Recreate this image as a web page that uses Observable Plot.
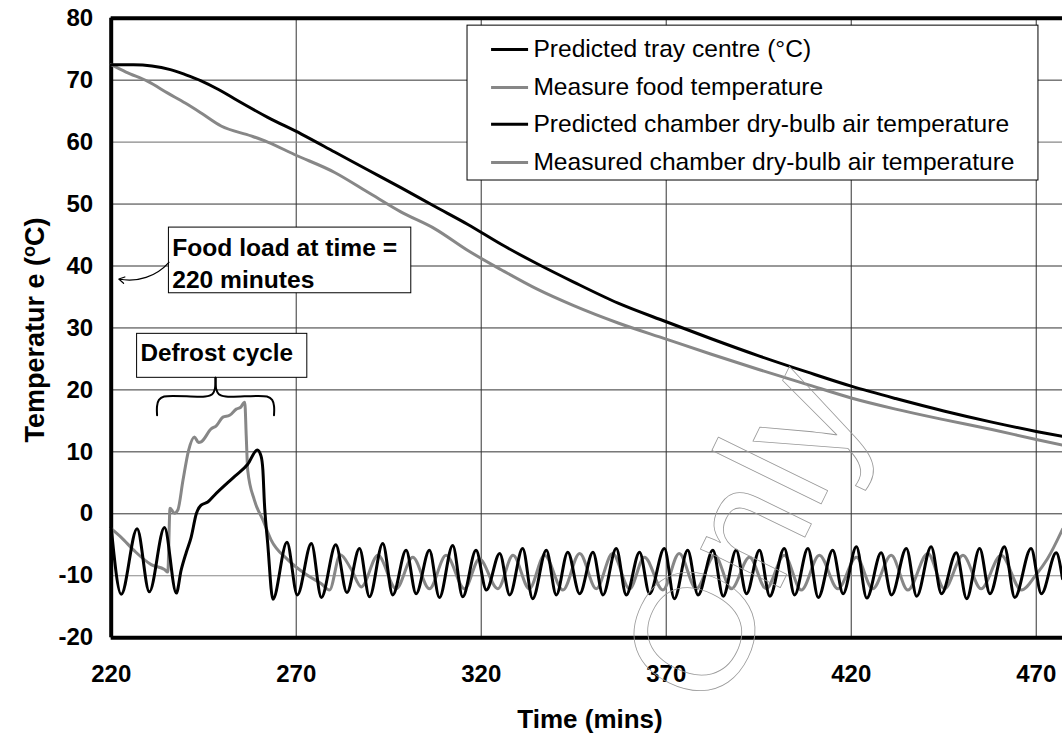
<!DOCTYPE html>
<html><head><meta charset="utf-8">
<script src="https://cdn.jsdelivr.net/npm/d3@7"></script>
<script src="https://cdn.jsdelivr.net/npm/@observablehq/plot@0.6"></script>
<style>
body{margin:0;background:#fff;}
svg{display:block;}
</style>
</head><body><div id="chart"></div>
<script>
// ---------- DATA ----------
const xTicks = [220, 270, 320, 370, 420, 470];
const yTicks = [-20, -10, 0, 10, 20, 30, 40, 50, 60, 70, 80];
const seriesNames = [
  "Predicted tray centre (°C)",
  "Measure food temperature",
  "Predicted chamber dry-bulb air temperature",
  "Measured chamber dry-bulb air temperature"
];
// [time (mins), temperature (°C)]
const predictedTray = [[220,72.5],[226,72.5],[231,72.3],[236,71.7],[240,70.9],[244.3,69.9],[249,68.5],[253.3,67.0],[262.3,64.0],[271.4,61.3],[280.4,58.4],[289.4,55.5],[298.4,52.6],[307.5,49.6],[316.4,46.7],[325.4,43.5],[335,40.4],[345,37.4],[357,34.0],[370,31.0],[382,28.3],[395,25.5],[408,22.9],[420,20.6],[432,18.6],[445,16.6],[458,14.8],[470,13.3],[477.1,12.5]];
const measuredFood = [[220,72.5],[224,71.3],[229.9,69.8],[235.3,67.9],[240,66.3],[244.3,64.7],[249.7,62.6],[257.8,61.0],[262.3,60.0],[269.5,58.0],[280.4,55.1],[289.4,51.9],[298.4,48.7],[307.5,46.0],[316.4,42.5],[325.4,39.4],[335,36.3],[345,33.6],[357,30.8],[370,28.2],[382,25.8],[395,23.3],[408,20.9],[420,18.7],[432,16.9],[445,15.2],[458,13.6],[470,12.0],[477.1,11.1]];
const predictedAir = [[220,-2.2],[222.7,-13.0],[227,-2.4],[230.3,-12.6],[234.4,-2.2],[237.6,-12.8],[238.9,-9.1],[240.3,-6.2],[241.6,-3.8],[243,0.0],[244.3,1.4],[246.1,1.9],[247.9,3.0],[253.3,6.0],[256.9,8.0],[259.5,10.3],[260.5,9.3],[261,7.0],[261.4,1.8],[262.3,-4.8],[263.7,-13.8],[267.5,-4.6],[270.3,-13.1],[274.1,-4.8],[276.8,-13.5],[280.7,-5.0],[283.7,-12.7],[287.1,-5.6],[289.8,-13.4],[293.4,-4.8],[296.1,-13.1],[299.7,-5.9],[302.4,-12.9],[306.0,-5.9],[308.7,-13.5],[312.3,-5.1],[315.0,-13.4],[318.6,-5.9],[321.4,-12.3],[325.0,-6.4],[327.7,-13.1],[331.2,-5.6],[333.9,-13.7],[337.6,-5.9],[340.3,-13.1],[343.4,-6.2],[346.6,-12.9],[350.2,-6.2],[352.9,-13.1],[356.5,-5.6],[359.2,-13.1],[362.8,-6.2],[365.5,-12.9],[369.5,-5.6],[372.2,-13.7],[375.8,-5.9],[378.6,-13.1],[382.6,-5.9],[385.4,-13.3],[388.9,-5.9],[391.7,-12.9],[395.2,-5.9],[398.0,-13.3],[401.9,-5.6],[404.7,-13.1],[408.3,-5.6],[411.1,-13.5],[415.0,-5.9],[417.8,-12.9],[421.4,-5.3],[424.2,-13.6],[428.1,-6.3],[430.9,-13.1],[434.9,-5.6],[437.7,-13.3],[441.6,-5.3],[444.4,-12.9],[448.4,-6.3],[451.2,-13.7],[454.7,-5.6],[457.5,-12.9],[461.4,-5.3],[464.2,-13.5],[468.6,-5.6],[471.4,-12.9],[475.4,-6.3],[477.1,-10.5]];
const measuredAir = [[220,-2.4],[222.7,-3.8],[226.3,-6.0],[230.8,-8.2],[234.4,-9.0],[235.3,-9.4],[235.9,0.9],[237.1,0.1],[238.0,0.6],[239.4,5.4],[240.9,10.2],[242.5,12.4],[243.6,11.5],[244.3,11.6],[247.0,13.7],[248.4,14.2],[250.2,15.6],[252.0,15.9],[253.8,16.9],[255.0,17.2],[255.8,17.9],[256.1,18.0],[256.5,12.5],[256.9,7.0],[258.7,2.2],[261.0,-1.0],[263.2,-4.2],[267.7,-7.4],[272.2,-9.6],[276.8,-11.3],[279.0,-12.3],[281.9,-6.6],[284.9,-9.0],[287.6,-11.8],[292.1,-6.7],[297.0,-12.1],[301.5,-7.0],[306.0,-12.1],[310.5,-6.7],[315.5,-12.1],[319.5,-7.3],[324.5,-12.1],[328.6,-6.7],[333.0,-12.1],[337.1,-6.7],[342.1,-12.3],[346.6,-6.4],[351.1,-12.1],[355.5,-6.4],[360.1,-12.1],[364.1,-7.0],[369.1,-12.3],[373.5,-6.4],[378.1,-12.1],[383.1,-6.7],[387.6,-12.1],[392.5,-7.0],[397.0,-12.1],[401.9,-6.7],[406.5,-12.3],[411.4,-6.7],[416.4,-12.1],[421.4,-7.0],[425.8,-12.1],[430.8,-6.7],[435.3,-12.3],[440.7,-6.4],[445.2,-12.1],[450.2,-6.7],[455.1,-12.1],[460.5,-6.7],[466.0,-12.3],[470.0,-9.8],[473.0,-7.3],[477.1,-2.5]];

// ---------- ANNOTATION LAYOUT (data units) ----------
const legendBox = {x1: 316.3, x2: 470.6, y1: 53.8, y2: 78.8};
const legendRowsT = [74.95, 68.8, 62.9, 56.7];
const legendSwatch = {x1: 322.8, x2: 332.8, text: 334.1};
const foodBox = {x1: 235.6, x2: 301.1, y1: 35.6, y2: 46.2, tx: 236.5, ty: 40.75};
const foodArrow = {x1: 235.6, y1: 40.6, x2: 222.05, y2: 37.9};
const defrostBox = {x1: 227.0, x2: 273.0, y1: 21.95, y2: 29.05, tx: 227.9, ty: 25.9};
const braceLeft = [[232.4,15.9],[232.4,17.4],[232.9,18.4],[234.3,18.93],[245.4,18.93],[247.3,19.3],[248.0,20.1],[248.2,21.95]];
const braceRight = [[264.0,15.9],[264.0,17.4],[263.5,18.4],[262.1,18.93],[251.0,18.93],[249.1,19.3],[248.4,20.1],[248.2,21.95]];
const watermark = {t: 391.4, v: -3.7, text: "Only"};

// ---------- BUILD ----------
const FONT = "'Liberation Sans', Arial, Helvetica, sans-serif";
const GRAY = "#878787";
const toObj = arr => arr.map(([t, v]) => ({t, v}));
const colors = ["#000", GRAY, "#000", GRAY];
const legendItems = seriesNames.map((name, i) => ({name, T: legendRowsT[i], color: colors[i]}));
const lineOpts = (c) => ({x: "t", y: "v", stroke: c, strokeWidth: 3, curve: "monotone-x", strokeLinejoin: "round"});

const plot = Plot.plot({
  width: 1062,
  height: 739,
  marginLeft: 110.7,
  marginRight: 0,
  marginTop: 17.7,
  marginBottom: 101.8,
  style: {fontFamily: FONT, background: "white", overflow: "visible", color: "black"},
  x: {domain: [220, 477.1], label: null},
  y: {domain: [-20, 80], label: null},
  color: {type: "identity"},
  marks: [
    Plot.gridX(xTicks, {stroke: "#333", strokeOpacity: 1, strokeWidth: 1}),
    Plot.gridY(yTicks.filter(d => d !== -10 && d !== 60), {stroke: "#333", strokeOpacity: 1, strokeWidth: 1}),
    Plot.gridY([-10, 60], {stroke: "#888", strokeOpacity: 1, strokeWidth: 1.2}),
    Plot.axisX(xTicks, {tickSize: 0, tickPadding: 27, fontSize: 24, fontWeight: "bold", tickFormat: d => String(d), label: null}),
    Plot.axisY(yTicks, {tickSize: 0, tickPadding: 18, fontSize: 24, fontWeight: "bold", tickFormat: d => String(d), label: null}),
    // frame
    Plot.ruleX([220], {stroke: "black", strokeWidth: 4}),
    Plot.ruleY([-20, 80], {stroke: "black", strokeWidth: 4}),
    // annotation boxes
    Plot.rect([foodBox], {x1: "x1", x2: "x2", y1: "y1", y2: "y2", fill: "white", stroke: "black", strokeWidth: 1}),
    Plot.text([foodBox], {x: "tx", y: "ty", text: () => "Food load at time =\n220 minutes", textAnchor: "start", fontSize: 24.6, fontWeight: "bold", lineHeight: 1.3, fill: "black"}),
    Plot.arrow([foodArrow], {x1: "x1", y1: "y1", x2: "x2", y2: "y2", bend: 30, headLength: 8, strokeWidth: 1.2, stroke: "black"}),
    Plot.rect([defrostBox], {x1: "x1", x2: "x2", y1: "y1", y2: "y2", fill: "white", stroke: "black", strokeWidth: 1}),
    Plot.text([defrostBox], {x: "tx", y: "ty", text: () => "Defrost cycle", textAnchor: "start", fontSize: 24.3, fontWeight: "bold", fill: "black"}),
    Plot.line(toObj(braceLeft), {x: "t", y: "v", stroke: "black", strokeWidth: 2, curve: "catmull-rom"}),
    Plot.line(toObj(braceRight), {x: "t", y: "v", stroke: "black", strokeWidth: 2, curve: "catmull-rom"}),
    // legend
    Plot.rect([legendBox], {x1: "x1", x2: "x2", y1: "y1", y2: "y2", fill: "white", stroke: "black", strokeWidth: 1}),
    Plot.ruleY(legendItems, {y: "T", x1: legendSwatch.x1, x2: legendSwatch.x2, stroke: "color", strokeWidth: 3}),
    Plot.text(legendItems, {x: legendSwatch.text, y: "T", text: "name", textAnchor: "start", fontSize: 24.6, fill: "black"}),
    // series
    Plot.line(toObj(measuredAir), lineOpts(GRAY)),
    Plot.line(toObj(predictedAir), lineOpts("#000")),
    Plot.line(toObj(measuredFood), lineOpts(GRAY)),
    Plot.line(toObj(predictedTray), lineOpts("#000")),
    // watermark
    Plot.text([watermark], {x: "t", y: "v", text: "text", fontSize: 168, rotate: -64, fill: "none", stroke: "#999", strokeWidth: 0.8, fontFamily: FONT})
  ]
});

document.getElementById("chart").appendChild(plot);

// axis titles
const svg = d3.select(plot);
svg.append("text")
  .attr("x", 590).attr("y", 728)
  .attr("text-anchor", "middle")
  .attr("font-family", FONT).attr("font-size", 26).attr("font-weight", "bold")
  .attr("fill", "black")
  .text("Time (mins)");
const yt = svg.append("text")
  .attr("transform", "translate(44,330) rotate(-90)")
  .attr("text-anchor", "middle")
  .attr("font-family", FONT).attr("font-size", 27).attr("font-weight", "bold")
  .attr("fill", "black");
yt.append("tspan").text("Temperatur e (");
yt.append("tspan").attr("dy", -9).attr("font-size", 18).text("o");
yt.append("tspan").attr("dy", 9).text("C)");
</script>
</body></html>
